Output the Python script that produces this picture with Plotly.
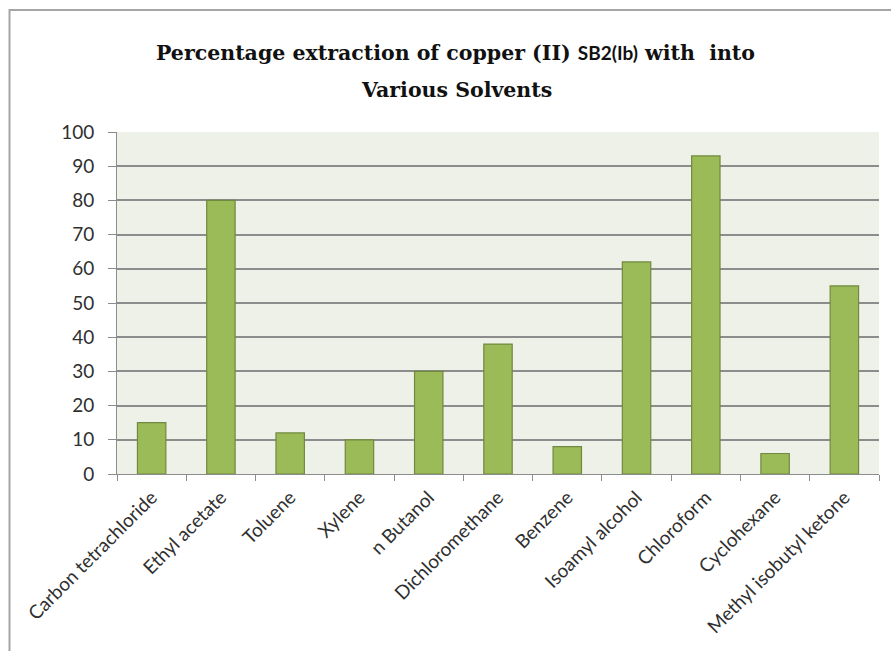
import plotly.graph_objects as go

# Solvents and percentage extraction of copper (II)
solvents = [
    "Carbon tetrachloride", "Ethyl acetate", "Toluene", "Xylene", "n Butanol",
    "Dichloromethane", "Benzene", "Isoamyl alcohol", "Chloroform",
    "Cyclohexane", "Methyl isobutyl ketone",
]
extraction = [15, 80, 12, 10, 30, 38, 8, 62, 93, 6, 55]
y_ticks = [0, 10, 20, 30, 40, 50, 60, 70, 80, 90, 100]

W, H = 891, 651
ML, MR, MT, MB = 117, 12, 132, 177
PW, PH = W - ML - MR, H - MT - MB


def px_x(p):
    return (p - ML) / PW


def px_y(p):
    return (H - MB - p) / PH


fig = go.Figure(
    go.Bar(
        x=solvents,
        y=extraction,
        marker=dict(color="#9BBB59", line=dict(color="#71893F", width=1.2)),
    )
)

title_font = dict(family="DejaVu Serif", size=20.5, color="#111111")
fig.add_annotation(
    x=px_x(455), y=px_y(53), xref="paper", yref="paper",
    xanchor="center", yanchor="middle", showarrow=False,
    text="<b>Percentage extraction of copper (II) "
         "<span style='font-family:Lato;font-size:19px'>SB2(Ib)</span>"
         " with&nbsp; into</b>",
    font=title_font,
)
fig.add_annotation(
    x=px_x(456), y=px_y(90), xref="paper", yref="paper",
    xanchor="center", yanchor="middle", showarrow=False,
    text="<b>Various Solvents</b>",
    font=title_font,
)

# outer chart frame
fig.add_shape(
    type="rect", xref="paper", yref="paper",
    x0=px_x(9.5), x1=px_x(905), y0=px_y(10), y1=px_y(700),
    line=dict(color="#A6A6A6", width=2), fillcolor="rgba(0,0,0,0)",
    layer="below",
)

fig.update_layout(
    width=W, height=H,
    margin=dict(l=ML, r=MR, t=MT, b=MB),
    paper_bgcolor="white",
    plot_bgcolor="#EEF1E8",
    showlegend=False,
    bargap=0.59,
    font=dict(family="Lato", color="#404040"),
)
fig.update_xaxes(
    tickangle=-45,
    tickfont=dict(family="Lato", size=19, color="#303030"),
    showline=True, linecolor="#8C8C8C", linewidth=1,
    ticks="outside", ticklen=6, tickcolor="#8C8C8C",
    ticklabelstandoff=4,
    tickson="boundaries",
    showgrid=False,
)
fig.update_yaxes(
    range=[0, 100],
    tickvals=y_ticks,
    tickfont=dict(family="Lato", size=19, color="#303030"),
    showline=True, linecolor="#8C8C8C", linewidth=1,
    ticks="outside", ticklen=8, tickcolor="#8C8C8C",
    ticklabelstandoff=10,
    showgrid=True, gridcolor="#8C8C8C", gridwidth=1.5,
    zeroline=False,
)

fig.write_html("out.html")
